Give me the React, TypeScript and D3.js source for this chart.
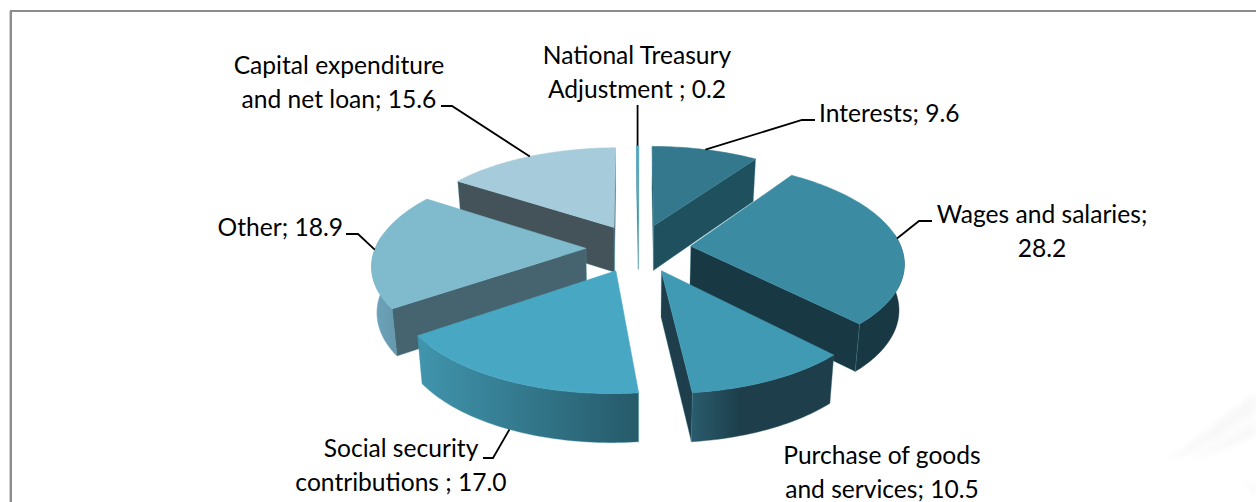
import React from "react";
import * as d3 from "d3";

// ---- data ----
const categories = [
  "National Treasury Adjustment",
  "Interests",
  "Wages and salaries",
  "Purchase of goods and services",
  "Social security contributions",
  "Other",
  "Capital expenditure and net loan",
];
const values = [0.2, 9.6, 28.2, 10.5, 17.0, 18.9, 15.6];
const labelLines = [
  ["National Treasury", "Adjustment ; 0.2"],
  ["Interests; 9.6"],
  ["Wages and salaries;", "28.2"],
  ["Purchase of goods", "and services; 10.5"],
  ["Social security", "contributions ; 17.0"],
  ["Other; 18.9"],
  ["Capital expenditure", "and net loan; 15.6"],
];
const topColors = ["#4fa6bf", "#33788c", "#3b8ba3", "#419ab3", "#48a8c4", "#7fbacd", "#a6cbda"];
const sideColors = ["#2a7a90", "#1f505e", "#183843", "#1d3e4a", "#265a6a", "#46646f", "#44535a"];
const outerFrom = ["#2a7a90", "#1f505e", "#183843", "#2a5c6d", "#4095ad", "#6fa6bc", "#44535a"];
const outerTo = ["#2a7a90", "#1f505e", "#183843", "#1d3e4a", "#265a6a", "#6397ac", "#44535a"];

// ---- layout ----
const W = 1256, H = 502;
const CX = 638.5, CY = 248, RX = 210.5, RY = 97, PERSP = 0.148, EXPLODE = 0.25;
const ROTATION = (-0.6 * Math.PI) / 180;
const VANISH_SHRINK = 0.98;
const FONT = "Lato, Carlito, sans-serif";
const FONT_SIZE = 24.6;
const LINE_H = 34;
const labelLayout = [
  { x: 637, y: 64, anchor: "middle", elbow: null, tail: null, fromWall: false },
  { x: 819, y: 122, anchor: "start", elbow: [802, 120], tail: [815, 120], fromWall: false },
  { x: 1042, y: 223, anchor: "middle", elbow: [919, 221], tail: [932, 221], fromWall: false },
  { x: 882, y: 464, anchor: "middle", elbow: null, tail: null, fromWall: false, noLeader: true },
  { x: 401, y: 457, anchor: "middle", elbow: [493, 458], tail: [483, 458], fromWall: true },
  { x: 343, y: 236, anchor: "end", elbow: [358, 234], tail: [346, 234], fromWall: false },
  { x: 339, y: 74, anchor: "middle", elbow: [452, 106], tail: [441, 106], fromWall: false },
];
const treasuryLeaderTop = 105;

const pieGen = d3
  .pie<number>()
  .sort(null)
  .value((d) => d)
  .startAngle(ROTATION)
  .endAngle(ROTATION + Math.PI * 2);
const arcs = pieGen(values);

type P = { x: number; y: number; v: number };

const project = (u: number, v: number): P => {
  const w = 1 / (1 - PERSP * v);
  return { x: CX + RX * u * w, y: CY + RY * v * w, v };
};
const arcPoint = (ax: number, ay: number, t: number) =>
  project(ax + Math.sin(t), ay - Math.cos(t));
const down = (p: P): P => ({
  x: CX + (p.x - CX) * VANISH_SHRINK,
  y: p.y + 45.5 + 3 * p.v,
  v: p.v,
});
const line = d3
  .line<P>()
  .x((d) => d.x)
  .y((d) => d.y);
const samples = (a: number, b: number) => {
  const n = Math.max(2, Math.ceil(Math.abs(b - a) / 0.02));
  return d3.range(n + 1).map((i) => a + ((b - a) * i) / n);
};
const cross = (a: P, b: P, c: { x: number; y: number }) =>
  (b.x - a.x) * (c.y - a.y) - (b.y - a.y) * (c.x - a.x);

const slices = arcs.map((a, i) => {
  const mid = (a.startAngle + a.endAngle) / 2;
  const ax = EXPLODE * Math.sin(mid);
  const ay = -EXPLODE * Math.cos(mid);
  const apex = project(ax, ay);
  const ts = samples(a.startAngle, a.endAngle);
  const rim = ts.map((t) => arcPoint(ax, ay, t));
  const midRim = arcPoint(ax, ay, mid);
  const top = line([apex, ...rim]) + "Z";

  const radial = [rim[0], rim[rim.length - 1]]
    .filter((b) => {
      const s1 = cross(apex, b, midRim);
      const s2 = cross(apex, b, down(b)) + cross(apex, b, down(apex));
      return s1 * s2 < 0;
    })
    .map((b) => line([apex, b, down(b), down(apex)]) + "Z");

  const lo = Math.max(a.startAngle, Math.PI * 0.46);
  const hi = Math.min(a.endAngle, Math.PI * 1.54);
  let outer: string | null = null;
  if (hi > lo) {
    const pts = samples(lo, hi).map((t) => arcPoint(ax, ay, t));
    outer = line([...pts, ...pts.slice().reverse().map(down)]) + "Z";
  }
  return { i, apex, top, radial, outer, midRim };
});
const order = slices.slice().sort((a, b) => a.apex.y - b.apex.y);

const watermark = [
  "M1165,463 L1256,392 L1256,412 L1215,440 L1190,452 Z",
  "M1188,462 L1256,420 L1256,436 Z",
  "M1245,478 L1256,488 L1256,500 Z",
];

export default function App() {
  return (
    <svg
      width={W}
      height={H}
      viewBox={`0 0 ${W} ${H}`}
      style={{ position: "fixed", left: 0, top: 0, background: "#fff" }}
    >
      <defs>
        <filter id="soft" x="-20%" y="-20%" width="140%" height="140%">
          <feGaussianBlur stdDeviation="3" />
        </filter>
        {slices.map((s) => (
          <linearGradient id={`outer${s.i}`} key={s.i} x1="0" x2="1" y1="0" y2="0">
            <stop offset="0" stopColor={outerFrom[s.i]} />
            <stop offset={s.i === 3 ? 0.35 : 1} stopColor={outerTo[s.i]} />
          </linearGradient>
        ))}
      </defs>

      <g filter="url(#soft)" fill="#f8f8f8">
        {watermark.map((d) => (
          <path key={d} d={d} />
        ))}
      </g>

      {/* frame */}
      <rect x={9} y={11} width={1} height={H - 11} fill="#d0d0d0" />
      <rect x={10} y={10} width={2} height={H - 10} fill="#8c8c8c" />
      <rect x={10} y={10} width={W - 10} height={2} fill="#8c8c8c" />

      {/* slices, back to front */}
      {order.map((s) => (
        <g key={categories[s.i]} aria-label={categories[s.i]}>
          {s.outer && (
            <path d={s.outer} fill={`url(#outer${s.i})`} stroke={outerFrom[s.i]} strokeWidth={0.4} />
          )}
          {s.radial.map((d) => (
            <path key={d} d={d} fill={sideColors[s.i]} stroke="#4f9db3" strokeWidth={0.5} strokeOpacity={0.6} />
          ))}
          <path d={s.top} fill={topColors[s.i]} stroke={topColors[s.i]} strokeWidth={0.6} strokeLinejoin="round" />
        </g>
      ))}

      {/* leaders */}
      {slices.map((s) => {
        const l = labelLayout[s.i] as any;
        if (l.noLeader) return null;
        const start = l.fromWall ? down(s.midRim) : s.midRim;
        const pts: [number, number][] = l.elbow
          ? [[start.x, start.y], l.elbow, l.tail]
          : [[start.x, start.y], [start.x, treasuryLeaderTop]];
        return (
          <polyline
            key={s.i}
            points={pts.map((p) => p.join(",")).join(" ")}
            fill="none"
            stroke="#000"
            strokeWidth={1.8}
          />
        );
      })}

      {/* labels */}
      {labelLines.map((lines, i) => {
        const l = labelLayout[i];
        return (
          <text
            key={i}
            x={l.x}
            y={l.y}
            textAnchor={l.anchor as any}
            fontFamily={FONT}
            fontSize={FONT_SIZE}
            fill="#000"
          >
            {lines.map((t, k) => (
              <tspan key={k} x={l.x} y={l.y + k * LINE_H}>
                {t}
              </tspan>
            ))}
          </text>
        );
      })}
    </svg>
  );
}
